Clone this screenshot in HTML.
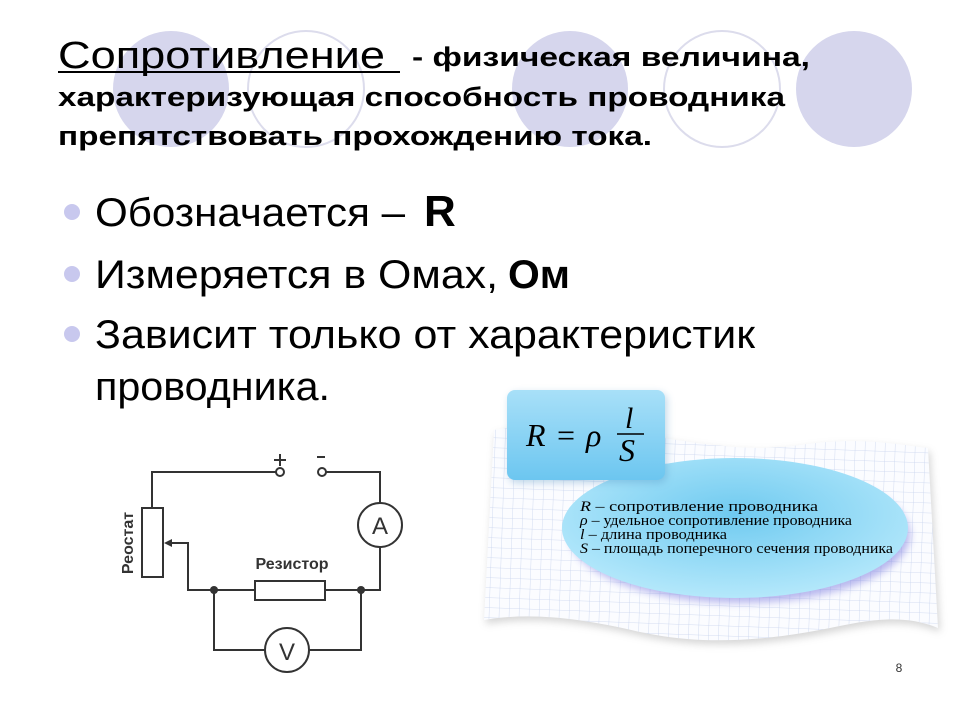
<!DOCTYPE html>
<html><head><meta charset="utf-8"><style>
html,body{margin:0;padding:0;background:#fff;}
body{width:960px;height:720px;position:relative;overflow:hidden;font-family:"Liberation Sans",sans-serif;}
</style></head><body>
<svg width="960" height="720" viewBox="0 0 960 720" xmlns="http://www.w3.org/2000/svg" style="position:absolute;left:0;top:0">
<defs>
<pattern id="grid" width="10" height="10" patternUnits="userSpaceOnUse" patternTransform="rotate(2)">
<path d="M10 0 L0 0 0 10" fill="none" stroke="#c8d4ee" stroke-width="0.8"/>
</pattern>
<linearGradient id="box" x1="0" y1="0" x2="0" y2="1">
<stop offset="0" stop-color="#a8e0f8"/><stop offset="1" stop-color="#6cc6f0"/>
</linearGradient>
<radialGradient id="ell" cx="0.5" cy="0.4" r="0.6">
<stop offset="0" stop-color="#6fcaf0"/><stop offset="1" stop-color="#b4e8fb"/>
</radialGradient>
<filter id="sh" x="-20%" y="-20%" width="140%" height="140%"><feGaussianBlur stdDeviation="4"/></filter>
</defs>
<circle cx="171" cy="89" r="58" fill="#d6d6ed"/>
<circle cx="306" cy="89" r="58" fill="none" stroke="#dcdcec" stroke-width="2"/>
<circle cx="570" cy="89" r="58" fill="#d6d6ed"/>
<circle cx="722" cy="89" r="58" fill="none" stroke="#dcdcec" stroke-width="2"/>
<circle cx="854" cy="89" r="58" fill="#d6d6ed"/>

<text x="58" y="68" font-size="38" fill="#000" textLength="327" lengthAdjust="spacingAndGlyphs">Сопротивление</text>
<line x1="58" y1="72" x2="400" y2="72" stroke="#000" stroke-width="2"/>
<text x="412" y="66" font-size="27" font-weight="bold" fill="#000" textLength="398" lengthAdjust="spacingAndGlyphs">- физическая величина,</text>
<text x="58" y="106" font-size="27" font-weight="bold" fill="#000" textLength="727" lengthAdjust="spacingAndGlyphs">характеризующая способность проводника</text>
<text x="58" y="145" font-size="27" font-weight="bold" fill="#000" textLength="594" lengthAdjust="spacingAndGlyphs">препятствовать прохождению тока.</text>

<circle cx="72" cy="212" r="8" fill="#c8c8ee"/>
<circle cx="72" cy="274" r="8" fill="#c8c8ee"/>
<circle cx="72" cy="334" r="8" fill="#c8c8ee"/>
<text x="95" y="226" font-size="40" fill="#000" textLength="310" lengthAdjust="spacingAndGlyphs">Обозначается –</text>
<text x="424" y="226" font-size="44" font-weight="bold" fill="#000">R</text>
<text x="95" y="288" font-size="40" fill="#000" textLength="403" lengthAdjust="spacingAndGlyphs">Измеряется в Омах,</text>
<text x="508" y="288" font-size="40" font-weight="bold" fill="#000" textLength="62" lengthAdjust="spacingAndGlyphs">Ом</text>
<text x="95" y="348" font-size="40" fill="#000" textLength="660" lengthAdjust="spacingAndGlyphs">Зависит только от характеристик</text>
<text x="95" y="400" font-size="40" fill="#000" textLength="235" lengthAdjust="spacingAndGlyphs">проводника.</text>

<path d="M494 430 C600 410 700 460 800 445 C860 436 900 445 928 448 L938 628 C900 612 860 622 830 628 C760 642 700 645 640 632 C580 618 530 612 484 620 Z" fill="#888" opacity="0.35" filter="url(#sh)" transform="translate(2,4)"/>
<path d="M494 430 C600 410 700 460 800 445 C860 436 900 445 928 448 L938 628 C900 612 860 622 830 628 C760 642 700 645 640 632 C580 618 530 612 484 620 Z" fill="#fbfcff"/>
<path d="M494 430 C600 410 700 460 800 445 C860 436 900 445 928 448 L938 628 C900 612 860 622 830 628 C760 642 700 645 640 632 C580 618 530 612 484 620 Z" fill="url(#grid)"/>
<ellipse cx="740" cy="535" rx="170" ry="68" fill="#8080e0" opacity="0.55" filter="url(#sh)"/>
<ellipse cx="735" cy="528" rx="173" ry="70" fill="url(#ell)"/>
<g font-family="Liberation Serif,serif" font-size="15" fill="#000">
<text x="580" y="511" textLength="238" lengthAdjust="spacingAndGlyphs"><tspan font-style="italic">R</tspan> – сопротивление проводника</text>
<text x="580" y="525" textLength="272" lengthAdjust="spacingAndGlyphs"><tspan font-style="italic">ρ</tspan> – удельное сопротивление проводника</text>
<text x="580" y="539" textLength="147" lengthAdjust="spacingAndGlyphs"><tspan font-style="italic">l</tspan>  – длина проводника</text>
<text x="580" y="553" textLength="313" lengthAdjust="spacingAndGlyphs"><tspan font-style="italic">S</tspan> – площадь поперечного сечения проводника</text>
</g>
<rect x="509" y="393" width="158" height="90" rx="8" fill="#5090c0" opacity="0.35" filter="url(#sh)"/>
<rect x="507" y="390" width="158" height="90" rx="8" fill="url(#box)"/>
<g font-family="Liberation Serif,serif" font-style="italic" fill="#000">
<text x="526" y="446" font-size="32">R</text>
<text x="557" y="446" font-size="32" font-style="normal">=</text>
<text x="586" y="446" font-size="32">ρ</text>
<text x="625" y="428" font-size="30">l</text>
<text x="619" y="461" font-size="32">S</text>
</g>
<line x1="617" y1="434" x2="644" y2="434" stroke="#000" stroke-width="1.5"/>

<g stroke="#333" stroke-width="2" fill="none">
<path d="M152 508 L152 472 L276 472"/>
<circle cx="280" cy="472" r="4" fill="#fff"/>
<circle cx="322" cy="472" r="4" fill="#fff"/>
<path d="M326 472 L380 472 L380 503"/>
<circle cx="380" cy="525" r="22" fill="#fff"/>
<path d="M380 547 L380 590 L325 590"/>
<rect x="255" y="581" width="70" height="19" fill="#fff"/>
<path d="M255 590 L188 590 L188 543 L170 543"/>
<rect x="142" y="508" width="21" height="69" fill="#fff"/>
<path d="M214 590 L214 650 L265 650"/>
<path d="M309 650 L361 650 L361 590"/>
<circle cx="287" cy="650" r="22" fill="#fff"/>
<path d="M274 460 L286 460 M280 454 L280 466"/>
<path d="M317 457 L325 457"/>
</g>
<path d="M164 543 L172 539 L172 547 Z" fill="#333"/>
<circle cx="214" cy="590" r="4" fill="#333"/>
<circle cx="361" cy="590" r="4" fill="#333"/>
<text x="380" y="534" font-size="24" text-anchor="middle" fill="#333">A</text>
<text x="287" y="660" font-size="24" text-anchor="middle" fill="#333">V</text>
<text x="292" y="569" font-size="16" font-weight="bold" text-anchor="middle" fill="#333">Резистор</text>
<text x="0" y="0" font-size="16" font-weight="bold" text-anchor="middle" fill="#333" transform="translate(133,543) rotate(-90)">Реостат</text>

<text x="899" y="672" font-size="12" text-anchor="middle" fill="#333">8</text>
</svg>
</body></html>
